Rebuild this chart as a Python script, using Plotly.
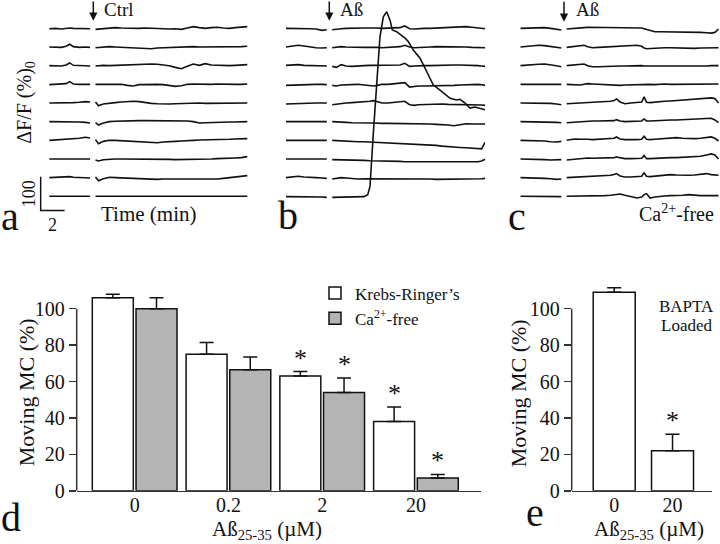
import plotly.graph_objects as go

W, H = 720, 544          # target picture size (pixel geometry below is in these units)
FIG_H = 554              # rendered figure height (page is squeezed vertically to 544)
KY = FIG_H / H
FONT = "Liberation Serif"
INK = "#111111"
GREY = "#b4b4b4"

# ---------------- Calcium traces (ΔF/F, %), 10 stacked cells per panel ----------------
ROW_STEP = 55          # vertical spacing between stacked traces (% ΔF/F)
SCALE_Y = 100          # scale bar, % ΔF/F
SCALE_T = 2            # scale bar, min

# Panel a: control
T_PRE_A = [0, 0.5, 1, 1.4, 1.7, 2.0, 2.5, 3.0, 3.4]
T_POST_A = [3.85, 4.1, 4.5, 5, 5.5, 6, 6.5, 7, 7.5, 8, 8.5, 9, 9.5, 10, 10.5, 11,
            11.5, 12, 12.5, 13, 13.5, 14, 14.5, 15, 15.5, 16, 16.5]
CTRL_PRE = [
    [-1, 0, -2, 0, 1, 0, -1, 0, -1],
    [0, 0, -1, 2, 8, 1, -1, 0, -1],
    [0, 0, -1, 2, 8, 1, 0, 0, -1],
    [-1, 0, 0, 2, 8, 1, 0, -1, 0],
    [0, 0, -1, 0, 0, 1, 2, 4, 3],
    [0, 0, 1, 0, 0, 0, -1, -2, -4],
    [0, 1, 1, 2, 3, 4, 6, 9, 7],
    [0, 0, 1, 0, 0, 1, 0, 0, 0],
    [0, 1, 2, 3, 3, 1, 0, 0, -1],
    [0, 0, 0, 0, 0, 0, 0, 0, 0],
]
CTRL_POST = [
    [-3, -2, 0, 1, 2, 1, 0, 1, 0, 1, 0, -1, 0, -2, -1, -3, 1, 5, 2, 0, 2, 3, 1, 0, 2, 3, 5],
    [-2, -1, 0, 1, 0, -1, -2, -1, -3, -4, -5, -3, -2, -1, -2, -1, 0, 1, 0, 0, -1, 0, -1, 0, 0, 1, 2],
    [-1, 0, 1, 0, 1, 0, 1, 2, 4, 5, 5, 4, 2, 0, -5, -9, -2, 5, 1, 6, 2, 1, 0, 0, 1, 2, 3],
    [0, 0, 1, 0, 1, 0, -3, -5, -1, 0, 1, 0, -1, -3, -6, -4, 0, 1, 0, -1, 0, 1, 0, -1, 0, 0, 1],
    [3, -8, -3, 0, 1, 3, 5, 5, 4, 1, -1, -2, -3, -3, -2, -1, 0, 0, 0, -1, -1, -2, -1, -1, 0, 0, 0],
    [-3, -10, -4, 0, 1, 2, 2, 3, 3, 3, 3, 3, 3, 3, 3, 3, 2, 0, -4, -3, -2, -2, -2, -1, -1, -1, 0],
    [2, -10, -3, 0, 0, -1, -2, -2, -3, -3, -5, -7, -5, -3, -3, -2, 0, 0, 1, 1, 2, 2, 3, 3, 4, 4, 5],
    [-3, -6, -2, 0, 0, 0, 0, 1, 0, 0, -1, -1, -1, -1, -2, -2, -2, -1, -1, 0, 0, 1, 1, 2, 3, 4, 7],
    [2, -9, -3, 1, 0, -1, -2, -3, -4, -4, -5, -5, -4, -4, -3, -3, -3, -3, -3, -4, -5, -4, -2, 0, 1, 3, 6],
    [0, 0, 0, 0, 0, 0, 0, 0, 0, 0, 0, 0, 0, 0, 0, 0, 0, 0, 0, 0, 0, 0, 0, 0, 0, 0, 0],
]

# Panel b: Aß
T_PRE_B = [0, 0.5, 1, 1.5, 2, 2.5, 3, 3.4]
T_POST_B = [3.85, 4.2, 4.6, 5, 5.5, 6, 6.5, 7, 7.3, 7.6, 8, 8.5, 9, 9.5, 9.9, 10.3,
            10.7, 11, 11.5, 12, 12.5, 13, 13.5, 14, 14.5, 15, 15.5, 16, 16.3, 16.6]
AB_PRE = [
    [0, 0, 1, 0, -1, -2, -6, -4],
    [0, 2, 5, 3, 0, -2, -3, -2],
    [1, 2, 3, 1, 0, -1, -2, -1],
    [-3, -2, -1, 0, 0, 0, 0, -1],
    [-3, -2, -1, 0, 0, 0, 0, 0],
    [0, 0, 0, 0, 0, 0, 0, 0],
    [0, 1, 0, 0, 0, 1, 0, 0],
    [0, 0, 0, 1, 0, 0, 0, 0],
    [0, 2, 4, 2, 0, 0, -1, -2],
    [-1, -1, 0, 0, -1, -2, -2, -3],
]
AB_POST = [
    [-4, -2, -1, 0, 1, 2, 1, 1, 0, 1, 0, 0, 1, 2, 7, -1, -2, -1, 0, 0, 1, 2, 3, 4, 5, 5, 3, 1, 0, -1],
    [-2, 0, 1, 0, -1, 0, -1, -1, 0, -1, -2, -1, 0, 1, 5, 0, -2, -2, -1, 0, 1, 1, 2, 2, 1, 0, -1, -1, -2, -2],
    [-2, -5, 3, -1, -2, 0, 0, 1, 1, 0, 0, 0, 1, 2, 7, -2, -1, 0, 0, 0, 1, 1, 1, 2, 2, 2, 1, 0, -1, -2],
    [-3, -5, -2, -1, 0, 0, -2, -4, -5, -3, 0, 0, 1, 2, 5, -8, -6, -5, -5, -5, -4, -4, -3, -3, -2, -1, 0, 0, -1, -3],
    [-5, -3, -1, 0, 1, 2, 3, 5, 7, 3, 0, 0, 1, 2, 5, -5, -7, -5, -4, -3, -3, -3, -4, -4, -5, -5, -5, -6, -6, -7],
    [0, 0, -1, -2, -3, -4, -4, -4, -4, -5, -5, -5, -5, -5, -5, -6, -6, -7, -7, -7, -8, -8, -10, -12, -10, -6, -7, -7, -7, -7],
    [0, -1, -2, -3, -3, -4, -4, -5, -5, -6, -6, -7, -8, -9, -9, -10, -10, -11, -12, -14, -15, -17, -19, -20, -21, -22, -24, -25, -25, -5],
    [-2, -2, -2, -3, -3, -4, -4, -5, -5, -5, -6, -6, -7, -7, -8, -8, -9, -9, -10, -10, -10, -10, -10, -10, -10, -9, -9, -8, -6, -1],
    [-4, -2, 0, -1, -3, -4, -3, -3, -3, -3, -3, -3, -2, -2, -3, -3, -3, -3, -4, -4, -5, -5, -4, -4, -4, -3, -3, -3, -3, -2],
]
# bottom cell in b: large Ca2+ transient
T_TRANS = [3.85, 4.5, 5, 5.5, 6, 6.5, 6.81, 7.0, 7.28, 7.56, 7.83, 8.11, 8.39, 8.67, 8.86, 9.22,
           9.64, 9.92, 10.19, 10.61, 11.17, 11.72, 12.28, 12.97, 13.67, 14.22, 14.5, 14.92,
           15.33, 15.75, 16.58]
AB_TRANS = [-3, -3, -2, -2, -2, -1, 5, 29, 187, 334, 470, 529, 544, 519, 490, 485, 475, 466,
            456, 431, 407, 367, 328, 309, 289, 284, 286, 275, 260, 263, 255]

# Panel c: Aß in Ca2+-free medium
T_PRE_C = [0, 0.5, 1, 1.5, 2, 2.5, 3, 3.4]
T_POST_C = [3.85, 4.5, 5, 5.3, 5.6, 6, 6.5, 7, 7.5, 7.8, 8.0, 8.3, 8.7, 9.2, 9.7, 10.1, 10.3,
            10.5, 10.8, 11.2, 11.6, 12, 12.5, 13, 13.5, 14, 14.5, 15, 15.5, 15.9, 16.2, 16.5]
CAF_PRE = [
    [0, 1, 2, 3, 2, 0, -2, -5],
    [0, 2, 3, 5, 4, 2, -1, -3],
    [0, 2, 3, 4, 5, 3, 0, -3],
    [0, 0, 0, 0, 0, -1, 0, 0],
    [0, 0, 0, 0, 0, -1, -3, -5],
    [0, 0, 0, 0, -1, -1, -2, -3],
    [0, 0, 0, -1, -2, -4, -5, -3],
    [0, 0, -1, -1, -2, -3, -3, -2],
    [0, 0, 0, -1, -2, -3, -5, -4],
    [0, 0, 0, 1, 0, 0, -1, -1],
]
CAF_POST = [
    [-2, -1, 1, 2, 3, 3, 2, 2, 3, 3, 3, 3, 3, 3, 3, 1, -1, -3, -6, -10, -10, -10, -10, -11, -11, -12, -12, -12, -13, -14, -12, -2],
    [-1, 1, 4, 5, 1, -2, -1, 0, 0, 0, 0, 1, 2, 3, 5, 2, -3, -5, -4, -3, -2, -2, -2, -3, -4, -5, -4, -3, -3, -2, -2, -2],
    [0, 2, 4, 5, 0, -3, -3, -2, -2, -2, -2, -1, -1, 0, 0, 0, -1, -1, -2, -3, -3, -3, -3, -3, -2, -2, -2, -1, -1, 0, 0, 0],
    [0, -1, -2, 0, 2, 1, 0, 0, -1, -2, -3, -3, -2, -1, 0, 0, 1, 0, 0, -1, 0, 1, 0, 0, 1, 1, 1, 1, 2, 2, 1, 1],
    [-2, -1, 0, 1, 1, 2, 3, 4, 5, 7, 12, 3, -2, 0, 2, 3, 18, 2, 1, 3, 5, 5, 6, 7, 8, 9, 10, 11, 13, 15, 13, 0],
    [-3, -1, 0, 1, 1, 2, 2, 2, 3, 3, 6, 2, 0, 1, 2, 2, 8, 2, 2, 3, 4, 5, 5, 5, 6, 7, 8, 8, 9, 10, 5, -3],
    [0, 4, 3, 2, 3, 2, 3, 3, 4, 6, 10, 4, 2, 1, 2, 3, 12, 3, 2, 3, 4, 6, 7, 8, 6, 5, 5, 6, 8, 10, 6, -2],
    [-3, 0, 2, 3, 3, 2, 2, 2, 3, 4, 6, 3, 1, 1, 2, 2, 10, 1, 1, 2, 3, 3, 4, 4, 5, 5, 6, 8, 12, 15, 12, 0],
    [0, 1, 2, 2, 3, 4, 5, 6, 7, 9, 12, 5, 2, 2, 3, 4, 14, 4, 3, 4, 6, 8, 9, 8, 7, 7, 8, 10, 12, 9, 8, 7],
    [0, 0, 1, 1, 1, 1, 2, 2, 3, 5, 6, 7, 3, -2, -5, -2, 5, 8, -5, -2, 0, 1, 2, 2, 3, 5, 3, 2, 2, 2, 2, 2],
]

# ---------------- Bar data (Moving MC, %) ----------------
CONC = ["0", "0.2", "2", "20"]
KR_MEAN = [106, 75, 63, 38]
KR_SEM = [2, 6.5, 2.5, 8]
KR_SIG = [False, False, True, True]
CAF_MEAN = [100, 66.5, 54, 7]
CAF_SEM = [6, 7, 8, 2]
CAF_SIG = [False, False, True, True]
BAPTA_CONC = ["0", "20"]
BAPTA_MEAN = [109, 22]
BAPTA_SEM = [2.5, 9]
BAPTA_SIG = [False, True]

# ---------------- layout helpers (pixel geometry) ----------------
def fx(px):
    return px / W

def fy(py):
    return 1 - py / H

PX_PER_MIN = 12.0
T_LEFT, T_RIGHT = -10 / PX_PER_MIN, 16.6
TRACE_W = (T_RIGHT - T_LEFT) * PX_PER_MIN
Y_LO, Y_HI = -127.4, 578.5          # % ; 34 px per 100 %
TOP_DOM = [fy(240), 1.0]
PANEL_T0 = {1: 49.3, 2: 286.0, 3: 520.5}   # pixel x of t = 0 for panels a, b, c

fig = go.Figure()

def axname(i, kind):
    return kind if i == 1 else f"{kind}{i}"

def add_stack(i, t_pre, pre_rows, t_post, post_rows, extra=None):
    n = len(pre_rows)
    for r in range(n):
        off = (n - 1 - r) * ROW_STEP
        if r < len(post_rows):
            tp, vp = t_post, post_rows[r]
        else:
            tp, vp = extra
        xs = list(t_pre) + [None] + list(tp)
        ys = [v + off for v in pre_rows[r]] + [None] + [v + off for v in vp]
        fig.add_trace(go.Scatter(x=xs, y=ys, mode="lines", showlegend=False,
                                 line=dict(color=INK, width=1.6),
                                 xaxis=axname(i, "x"), yaxis=axname(i, "y"),
                                 hoverinfo="skip"))

add_stack(1, T_PRE_A, CTRL_PRE, T_POST_A, CTRL_POST)
add_stack(2, T_PRE_B, AB_PRE, T_POST_B, AB_POST, extra=(T_TRANS, AB_TRANS))
add_stack(3, T_PRE_C, CAF_PRE, T_POST_C, CAF_POST)

# scale bar in panel a
SB_T0, SB_Y0 = -0.72, -42
fig.add_trace(go.Scatter(x=[SB_T0, SB_T0, SB_T0 + SCALE_T],
                         y=[SB_Y0 + SCALE_Y, SB_Y0, SB_Y0],
                         mode="lines", line=dict(color=INK, width=1.5),
                         showlegend=False, xaxis="x", yaxis="y", hoverinfo="skip"))

# ---------------- bars ----------------
BAR_W = 0.437
xi = list(range(len(CONC)))
fig.add_trace(go.Bar(x=xi, y=KR_MEAN, width=BAR_W, offset=-0.452,
                     marker=dict(color="white", line=dict(color=INK, width=1.5)),
                     error_y=dict(type="data", array=KR_SEM, arrayminus=[0] * len(KR_SEM),
                                  symmetric=False, color=INK, thickness=1.5, width=7),
                     name="Krebs-Ringer’s", legendgroup="kr",
                     xaxis="x4", yaxis="y4"))
fig.add_trace(go.Bar(x=xi, y=CAF_MEAN, width=BAR_W, offset=0.014,
                     marker=dict(color=GREY, line=dict(color=INK, width=1.5)),
                     error_y=dict(type="data", array=CAF_SEM, arrayminus=[0] * len(CAF_SEM),
                                  symmetric=False, color=INK, thickness=1.5, width=7),
                     name="Ca<sup>2+</sup>-free", legendgroup="caf",
                     xaxis="x4", yaxis="y4"))
xb = list(range(len(BAPTA_CONC)))
fig.add_trace(go.Bar(x=xb, y=BAPTA_MEAN, width=0.72,
                     marker=dict(color="white", line=dict(color=INK, width=1.5)),
                     error_y=dict(type="data", array=BAPTA_SEM, arrayminus=[0] * len(BAPTA_SEM),
                                  symmetric=False, color=INK, thickness=1.5, width=7),
                     showlegend=False, xaxis="x5", yaxis="y5"))

# ---------------- axes ----------------
hidden = dict(visible=False, showgrid=False, zeroline=False, fixedrange=True)
layout_axes = {}
for i in (1, 2, 3):
    x0 = PANEL_T0[i] - 10
    layout_axes[axname(i, "xaxis")] = dict(hidden, domain=[fx(x0), fx(x0 + TRACE_W)],
                                            range=[T_LEFT, T_RIGHT], anchor=axname(i, "y"))
    layout_axes[axname(i, "yaxis")] = dict(hidden, domain=TOP_DOM, range=[Y_LO, Y_HI],
                                            anchor=axname(i, "x"))

BAR_DOM_Y = [fy(491.7), fy(491.7 - 120 * 1.824)]
tickfont = dict(family=FONT, size=20, color=INK)
def xbar(dom, rng, labels):
    return dict(domain=dom, range=rng, tickvals=list(range(len(labels))), ticktext=labels,
                showline=True, linecolor="#333333", linewidth=1.5, ticks="", ticklen=0,
                ticklabelstandoff=-4,
                showgrid=False, zeroline=False, tickfont=tickfont, fixedrange=True)
def ybar(dom, anchor):
    return dict(domain=dom, range=[0, 120], tickvals=[0, 20, 40, 60, 80, 100],
                ticks="outside", ticklen=7, tickwidth=1.5, tickcolor="#333333",
                showline=False, showgrid=False, zeroline=False, tickfont=tickfont,
                anchor=anchor, fixedrange=True)

layout_axes["xaxis4"] = dict(xbar([fx(76.7), fx(480.7)], [-0.6186, 3.69], CONC), anchor="y4")
layout_axes["yaxis4"] = ybar(BAR_DOM_Y, "x4")
layout_axes["xaxis5"] = dict(xbar([fx(571.7), fx(711.7)], [-0.729, 1.672], BAPTA_CONC), anchor="y5")
layout_axes["yaxis5"] = ybar(BAR_DOM_Y, "x5")

shapes = []
for xr, yr in (("x4 domain", "y4"), ("x5 domain", "y5")):
    shapes.append(dict(type="line", xref=xr, yref=yr, x0=0, x1=0, y0=0, y1=100,
                       line=dict(color="#333333", width=1.5)))

# ---------------- annotations ----------------
ann = []
def txt(text, x, y, size, xanchor="center", yanchor="middle", angle=0, xref="paper", yref="paper", **kw):
    ann.append(dict(text=text, x=x, y=y, xref=xref, yref=yref, showarrow=False,
                    xanchor=xanchor, yanchor=yanchor, textangle=angle,
                    font=dict(family=FONT, size=size, color=INK), **kw))

# stimulus arrows
for px_, py_head, label, lx in ((93.3, 20.7, "Ctrl", 102), (329.3, 20.7, "Aß", 338), (564, 21.7, "Aß", 574)):
    ann.append(dict(x=fx(px_), y=fy(py_head), xref="paper", yref="paper", ax=0, ay=-21 * KY,
                    showarrow=True, arrowhead=2, arrowsize=1.1, arrowwidth=1.5,
                    arrowcolor=INK, text=""))
    txt(label, fx(lx), fy(-3), 19, xanchor="left", yanchor="top")

txt("ΔF/F (%)<sub>0</sub>", fx(26), fy(102), 20, angle=-90)
txt("Time (min)", fx(148), fy(214), 21)
txt("Ca<sup>2+</sup>-free", fx(676), fy(213), 20)
txt(str(SCALE_Y), SB_T0, SB_Y0 + SCALE_Y / 2, 18, angle=-90, xref="x", yref="y", xshift=-12)
txt(str(SCALE_T), SB_T0 + SCALE_T / 2, SB_Y0, 18, xref="x", yref="y", yshift=-14 * KY)

for letter, lx, ly in (("a", -1, 217), ("b", 276, 216), ("c", 506, 217), ("d", -1, 518), ("e", 524, 513)):
    txt(letter, fx(lx), fy(ly), 40, xanchor="left")

txt("Moving MC (%)", fx(26), fy(393), 22, angle=-90)
txt("Moving MC (%)", fx(518), fy(394), 22, angle=-90)
txt("Aß<sub>25-35</sub> (µM)", fx(267), fy(531), 21)
txt("Aß<sub>25-35</sub> (µM)", fx(649), fy(531), 21)
txt("BAPTA", fx(686), fy(307), 17)
txt("Loaded", fx(686), fy(326), 17)

# significance stars
STAR_SHIFT = -3 * KY
for i in xi:
    if KR_SIG[i]:
        txt("*", i - 0.452 + BAR_W / 2, KR_MEAN[i] + KR_SEM[i], 26, yanchor="bottom",
            xref="x4", yref="y4", yshift=STAR_SHIFT)
    if CAF_SIG[i]:
        txt("*", i + 0.014 + BAR_W / 2, CAF_MEAN[i] + CAF_SEM[i], 26, yanchor="bottom",
            xref="x4", yref="y4", yshift=STAR_SHIFT)
for i in xb:
    if BAPTA_SIG[i]:
        txt("*", i, BAPTA_MEAN[i] + BAPTA_SEM[i], 26, yanchor="bottom",
            xref="x5", yref="y5", yshift=STAR_SHIFT)

fig.update_layout(
    width=W, height=FIG_H, margin=dict(l=0, r=0, t=0, b=0),
    paper_bgcolor="white", plot_bgcolor="white",
    font=dict(family=FONT, color=INK),
    barmode="overlay",
    showlegend=True,
    legend=dict(x=fx(315), y=fy(276), xanchor="left", yanchor="top",
                font=dict(family=FONT, size=17, color=INK),
                bgcolor="rgba(0,0,0,0)", traceorder="grouped", tracegroupgap=0),
    shapes=shapes, annotations=ann,
    **layout_axes,
)

fig.write_html("out.html", config={"displayModeBar": False, "staticPlot": True},
               post_script="document.body.style.margin='0';document.body.style.overflow='hidden';")
